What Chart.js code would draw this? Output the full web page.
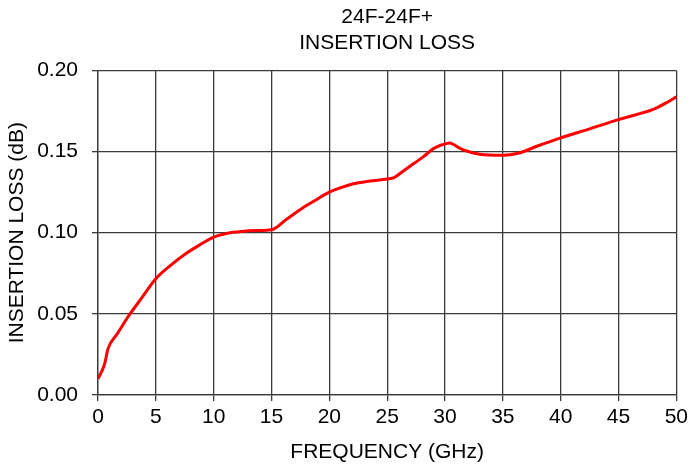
<!DOCTYPE html>
<html>
<head>
<meta charset="utf-8">
<script src="https://cdn.jsdelivr.net/npm/chart.js@4"></script>
<style>
  body { margin: 0; background: #fff; }
  canvas { display: block; }
</style>
</head>
<body>
<canvas id="chart" width="692" height="468"></canvas>
<script>
// frequency points (GHz) and insertion loss (dB)
const freqGHz = [0, 0.57, 0.86, 1.7, 2.57, 3.8, 5, 6.3, 7.58, 8.8, 10, 11.2, 12.4, 13.7, 15,
  16.3, 17.6, 18.8, 20, 21, 22, 23.5, 25, 25.6, 26.4, 27.3, 28.2, 29.0, 29.6, 30.1, 30.4, 30.7,
  31.3, 32.0, 33.0, 35, 36.4, 38, 40, 42.5, 45, 46.5, 48, 49, 50];
const lossDB = [0.0099, 0.0191, 0.0284, 0.038, 0.0479, 0.060, 0.0716, 0.080, 0.087, 0.0925, 0.0973, 0.0997,
  0.1008, 0.1013, 0.1018, 0.1083, 0.1148, 0.120, 0.125, 0.1278, 0.1300, 0.1318, 0.1331, 0.1340, 0.1380, 0.1426,
  0.1472, 0.1518, 0.1538, 0.1549, 0.1552, 0.1545, 0.1520, 0.1500, 0.1483, 0.1477, 0.1491, 0.1534, 0.1584,
  0.1640, 0.1697, 0.1727, 0.1760, 0.1795, 0.1837];
const xTicks = [0, 50, 5];
const yTicks = [0, 0.20, 0.05];

const gridColor = '#3a3a3a';
const font = { family: '"Liberation Sans", Arial, sans-serif', size: 21 };

new Chart(document.getElementById('chart'), {
  type: 'line',
  data: {
    datasets: [{
      data: freqGHz.map((f, i) => ({ x: f, y: lossDB[i] })),
      borderColor: '#ff0000',
      borderWidth: 3,
      pointRadius: 0,
      fill: false,
      cubicInterpolationMode: 'monotone'
    }]
  },
  options: {
    responsive: false,
    animation: false,
    devicePixelRatio: 1,
    layout: { padding: { left: 0, right: 13, top: 0, bottom: 0 } },
    plugins: {
      legend: { display: false },
      tooltip: { enabled: false },
      title: {
        display: true,
        fullSize: false, // centre over the plot area, not the canvas
        text: ['24F-24F+', 'INSERTION LOSS'],
        color: '#000',
        font: { ...font, lineHeight: 1.2, weight: 'normal' },
        padding: { top: 5, bottom: 15 }
      }
    },
    scales: {
      x: {
        type: 'linear',
        min: xTicks[0],
        max: xTicks[1],
        ticks: { stepSize: xTicks[2], color: '#000', font, padding: 4, maxRotation: 0 },
        grid: { color: gridColor, lineWidth: 1.3, tickLength: 6 },
        border: { color: gridColor, width: 1.3 },
        title: { display: true, text: 'FREQUENCY (GHz)', color: '#000', font, padding: { top: 0, bottom: 3 } },
        afterFit: s => { s.height = 73; }
      },
      y: {
        min: yTicks[0],
        max: yTicks[1],
        ticks: { stepSize: yTicks[2], color: '#000', font, padding: 14, callback: v => v.toFixed(2) },
        grid: { color: gridColor, lineWidth: 1.3, tickLength: 6 },
        border: { color: gridColor, width: 1.3 },
        title: { display: true, text: 'INSERTION LOSS (dB)', color: '#000', font, padding: { top: 5, bottom: 0 } },
        afterFit: s => { s.width = 98; }
      }
    }
  }
});
</script>
</body>
</html>
